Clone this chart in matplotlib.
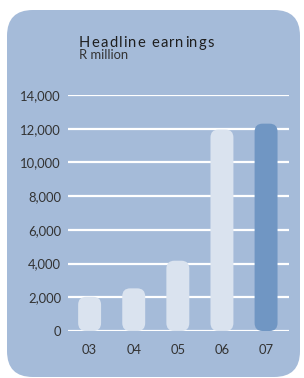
import matplotlib.pyplot as plt
from matplotlib.patches import FancyBboxPatch

years = ["03", "04", "05", "06", "07"]
earnings = [2030, 2530, 4170, 11950, 12300]
yticks = [0, 2000, 4000, 6000, 8000, 10000, 12000, 14000]
ytick_labels = ["0", "2,000", "4,000", "6,000", "8,000", "10,000", "12,000", "14,000"]
title = "Headline earnings"
subtitle = "R million"

panel_col = "#a5bbd9"
light_bar = "#dae3ef"
dark_bar = "#7096c3"
text_col = "#333333"

W, H = 304, 378
fig = plt.figure(figsize=(W / 100, H / 100), dpi=100)
fig.patch.set_facecolor("white")

# rounded background panel
panel = FancyBboxPatch((7 / W, 1 / H), 293 / W, 367 / H,
                       boxstyle="round,pad=0,rounding_size=0.085",
                       mutation_aspect=W / H,
                       transform=fig.transFigure, facecolor=panel_col,
                       edgecolor="none", zorder=-5)
fig.patches.append(panel)

ax = fig.add_axes([68 / W, 1 - 331 / H, (289 - 68) / W, (331 - 95) / H])
ax.set_zorder(2)
ax.set_facecolor("none")
ax.set_xlim(-0.49, 4.52)
ax.set_ylim(0, 14000)

for y in yticks:
    ax.axhline(y, color="white", lw=1.6, zorder=1)

x = list(range(len(years)))
bars = ax.bar(x, earnings, width=0.52, color="none")
rx = 0.18
ry = 8 / 33.7 * 2000
for i, b in enumerate(bars):
    col = dark_bar if i == len(years) - 1 else light_bar
    p = FancyBboxPatch((b.get_x(), 0), b.get_width(), b.get_height(),
                       boxstyle=f"round,pad=0,rounding_size={rx}",
                       mutation_aspect=ry / rx, facecolor=col,
                       edgecolor="none", zorder=2, clip_on=False)
    ax.add_patch(p)
    b.remove()

ax.set_yticks(yticks)
ax.set_yticklabels(ytick_labels)
ax.set_xticks(x)
ax.set_xticklabels(years)
ax.tick_params(axis="both", length=0, labelsize=9.4, labelcolor=text_col)
ax.tick_params(axis="y", pad=5)
ax.tick_params(axis="x", pad=9)
for lab in ax.get_xticklabels() + ax.get_yticklabels():
    lab.set_fontfamily("Lato")
for s in ax.spines.values():
    s.set_visible(False)

# letter-spaced title, one glyph at a time
renderer = fig.canvas.get_renderer()
xpos = 79
for ch in title:
    t = fig.text(xpos / W, 1 - 47 / H, ch, fontsize=10.6, color="#1e1e1e",
                 family="Lato", va="baseline")
    if ch == " ":
        w = 3.2
    else:
        w = t.get_window_extent(renderer).width
    xpos += w + 1.2

fig.text(79 / W, 1 - 59 / H, subtitle, fontsize=9.4, color=text_col,
         family="Lato", va="baseline")

fig.savefig("out.png", dpi=100)
